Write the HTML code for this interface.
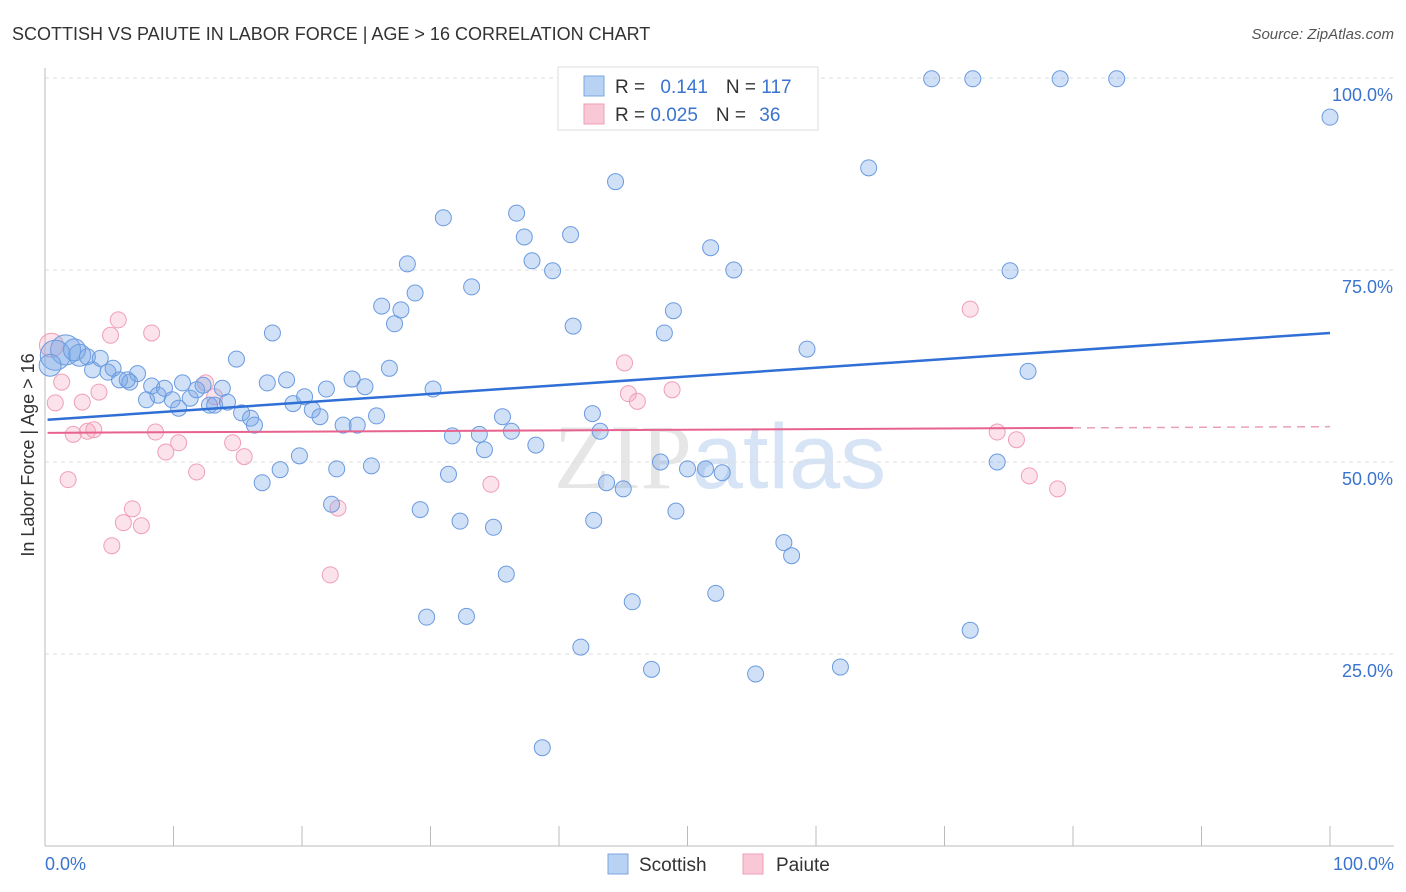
<!DOCTYPE html>
<html><head><meta charset="utf-8"><style>
body{margin:0;background:#fff;font-family:"Liberation Sans",sans-serif;}
#wrap{position:relative;width:1406px;height:892px;overflow:hidden;}
</style></head><body>
<div id="wrap">
<svg id="svg" width="1406" height="892" xmlns="http://www.w3.org/2000/svg">
<text x="12" y="40" font-size="18" fill="#333">SCOTTISH VS PAIUTE IN LABOR FORCE | AGE &gt; 16 CORRELATION CHART</text>
<text x="1394" y="39" font-size="15" fill="#555" font-style="italic" text-anchor="end">Source: ZipAtlas.com</text>
<text x="720" y="488" font-size="92" fill="#e6e6e6" text-anchor="middle" font-family="Liberation Serif,serif">ZIP<tspan fill="#d6e4f5" font-family="Liberation Sans,sans-serif">atlas</tspan></text>
<text transform="translate(34,455) rotate(-90)" font-size="18" fill="#333" text-anchor="middle">In Labor Force | Age &gt; 16</text>
<g id="grid"></g><g id="pts"></g><g id="lines"></g>
<g>
<rect x="558" y="67" width="260" height="63" fill="#fff" stroke="#ddd"/>
<rect x="584" y="76" width="20" height="20" fill="#b8d2f3" stroke="#7ba7e0"/>
<rect x="584" y="104" width="20" height="20" fill="#f9c8d6" stroke="#ef9fb7"/>
<text x="615" y="93" font-size="19" fill="#333">R = <tspan fill="#3a74d0" dx="10">0.141</tspan><tspan fill="#333" dx="18">N = </tspan><tspan fill="#3a74d0">117</tspan></text>
<text x="615" y="121" font-size="19" fill="#333">R = <tspan fill="#3a74d0">0.025</tspan><tspan fill="#333" dx="18">N = </tspan><tspan fill="#3a74d0" dx="8">36</tspan></text>
</g>
<g>
<rect x="608" y="854" width="20" height="20" fill="#b8d2f3" stroke="#7ba7e0"/>
<text x="639" y="871" font-size="19" fill="#333">Scottish</text>
<rect x="743" y="854" width="20" height="20" fill="#f9c8d6" stroke="#ef9fb7"/>
<text x="776" y="871" font-size="19" fill="#333">Paiute</text>
</g>
</svg>
</div>
<script>
const blueX=[1.6,0.8,0.4,2.7,2.3,3.3,4.3,3.7,4.9,5.3,5.8,6.6,7.2,6.4,7.9,8.3,8.8,9.3,9.9,10.4,10.7,11.3,11.8,12.3,12.8,13.2,13.8,14.2,14.9,15.3,16.0,16.3,16.9,17.3,17.7,18.3,18.8,19.3,19.8,20.2,20.8,21.4,21.9,22.3,22.7,23.2,23.9,24.3,24.9,25.4,25.8,26.2,26.8,27.2,27.7,28.2,28.8,29.7,29.2,30.2,31.0,31.4,31.7,32.3,32.8,33.2,33.8,34.2,34.9,35.6,35.9,36.3,36.7,37.3,37.9,38.2,38.7,39.5,40.9,41.1,41.7,42.6,42.7,43.2,43.7,44.4,45.0,45.7,47.2,47.9,48.2,48.9,49.1,50.0,51.4,51.8,52.2,52.7,53.6,55.3,57.5,58.1,59.3,61.9,64.1,69.0,72.0,72.2,74.1,75.1,76.5,79.0,83.4,100,45.4,59.0];
const blueY=[64.6,63.9,62.6,63.9,64.6,63.7,63.5,62.0,61.7,62.2,60.7,60.4,61.5,60.7,58.1,59.9,58.7,59.6,58.1,57.0,60.3,58.3,59.4,60.0,57.4,57.4,59.6,57.8,63.4,56.4,55.7,54.8,47.3,60.3,66.8,49.0,60.7,57.6,50.8,58.5,56.8,55.9,59.5,44.5,49.1,54.8,60.8,54.8,59.8,49.5,56.0,70.3,62.2,68.0,69.8,75.8,72.0,29.8,43.8,59.5,81.8,48.4,53.4,42.3,29.9,72.8,53.6,51.6,41.5,55.9,35.4,54.0,82.4,79.3,76.2,52.2,12.8,74.9,79.6,67.7,25.9,56.3,42.4,54.0,47.3,86.5,46.5,31.8,23.0,50.0,66.8,69.7,43.6,49.1,49.1,77.9,32.9,48.6,75.0,22.4,39.5,37.8,64.7,23.3,88.3,99.9,28.1,99.9,50.0,74.9,61.8,99.9,99.9,94.9,99.9,99.9];
const pinkX=[0.5,1.3,0.8,1.8,2.2,2.9,3.3,3.8,4.2,5.1,5.2,5.7,6.1,6.8,7.5,8.3,8.6,9.4,10.4,11.8,12.5,13.2,14.6,15.5,22.2,22.8,45.1,45.4,46.1,48.8,34.7,72.0,74.1,75.6,76.6,78.8];
const pinkY=[65.2,60.4,57.7,47.7,53.6,57.8,54.0,54.2,59.1,66.5,39.1,68.5,42.1,43.9,41.7,66.8,53.9,51.3,52.5,48.7,60.3,58.5,52.5,50.7,35.3,44.0,62.9,58.9,57.9,59.4,47.1,69.9,53.9,52.9,48.2,46.5];
const blueTrend=[55.5,66.8];   // y at x=0, x=100
const pinkTrend=[53.8,54.6];
const pinkTrendEnd=80;
const yTicks=[25,50,75,100];
const xTickLabels=["0.0%","100.0%"];
const NS="http://www.w3.org/2000/svg";
const sx=v=>45+v*12.85, sy=v=>846-v*7.68;
function mk(tag,attrs,parent){const e=document.createElementNS(NS,tag);for(const k in attrs)e.setAttribute(k,attrs[k]);parent.appendChild(e);return e;}
const grid=document.getElementById('grid'),pts=document.getElementById('pts'),lines=document.getElementById('lines'),svg=document.getElementById('svg');
yTicks.forEach(t=>{
 const l=mk('line',{x1:45,x2:1394,y1:sy(t),y2:sy(t),stroke:'#ddd','stroke-dasharray':'4,4'},grid);
 
 
 const tx=mk('text',{x:1393,y:sy(t)+23,'font-size':18,fill:'#3a74d0','text-anchor':'end'},grid);
 tx.textContent=t.toFixed(1)+'%';
 
 
});
const ax=mk('line',{x1:45,x2:45,y1:68,y2:846,stroke:'#bbb'},grid);


const bx=mk('line',{x1:45,x2:1394,y1:846,y2:846,stroke:'#bbb'},grid);


for(let i=1;i<=10;i++){const t=mk('line',{x1:sx(i*10),x2:sx(i*10),y1:826,y2:846,stroke:'#bbb'},grid);
 
 }
[[0,'start',45],[100,'end',1394]].forEach((a,i)=>{const tx=mk('text',{x:a[2],y:870,'font-size':18,fill:'#3a74d0','text-anchor':a[1]},grid);tx.textContent=xTickLabels[i];
 
 });
pinkX.forEach((x,i)=>{const c=mk('circle',{cx:sx(x),cy:sy(pinkY[i]),r:i==0?12:8,fill:'rgba(244,160,185,0.3)',stroke:'#ef9fb7','stroke-width':1},pts);
 
 });
blueX.forEach((x,i)=>{const c=mk('circle',{cx:sx(x),cy:sy(blueY[i]),r:i<2?15:(i<5?11:8),fill:'rgba(120,165,230,0.35)',stroke:'#6b9be0','stroke-width':1},pts);
 
 });
const bl=mk('line',{x1:sx(0.2),y1:sy(blueTrend[0]),x2:sx(100),y2:sy(blueTrend[1]),stroke:'#2f6fd6','stroke-width':2.5},lines);


const pAt=x=>pinkTrend[0]+(pinkTrend[1]-pinkTrend[0])*x/100;
const pl=mk('line',{x1:sx(0.2),y1:sy(pAt(0)),x2:sx(pinkTrendEnd),y2:sy(pAt(pinkTrendEnd)),stroke:'#e8628f','stroke-width':2},lines);


const pd=mk('line',{x1:sx(pinkTrendEnd),y1:sy(pAt(pinkTrendEnd)),x2:sx(100),y2:sy(pAt(100)),stroke:'#e8a0b8','stroke-width':1.5,'stroke-dasharray':'8,6'},lines);


</script>
</body></html>
